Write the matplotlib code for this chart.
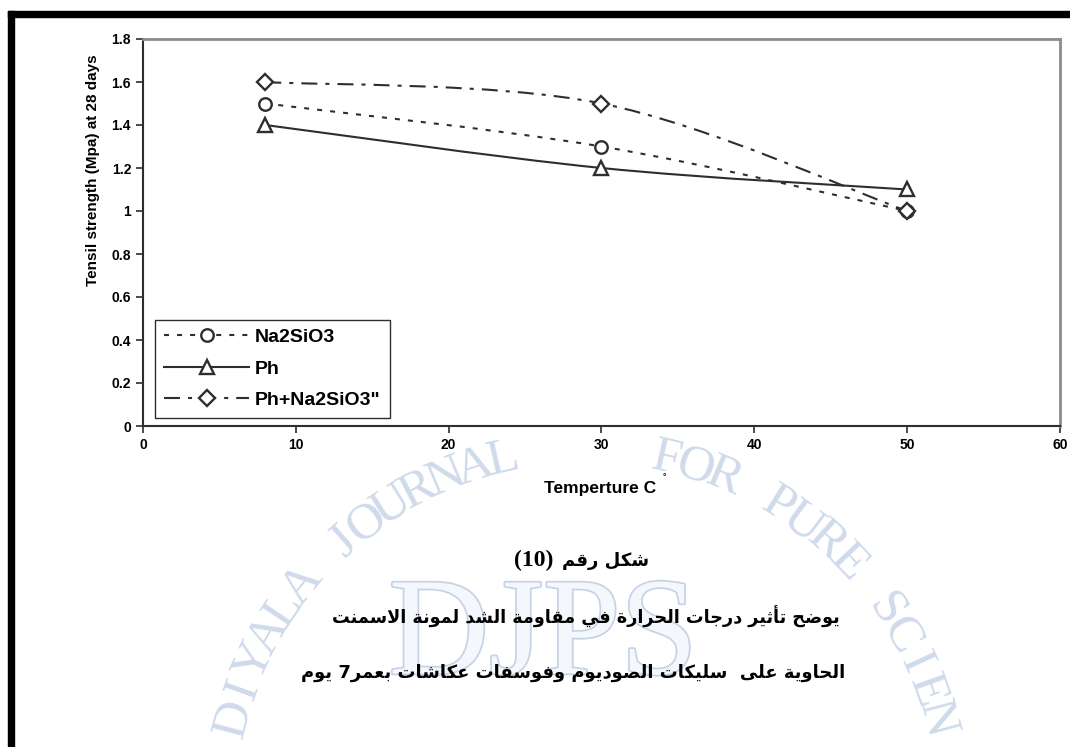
import re
import numpy as np
import matplotlib
matplotlib.use("Agg")
import matplotlib.pyplot as plt
import matplotlib.patheffects as pe
from matplotlib.path import Path
from matplotlib.patches import PathPatch, Rectangle
from matplotlib.lines import Line2D
from matplotlib.ticker import FuncFormatter, MultipleLocator
from matplotlib.transforms import IdentityTransform

# datos del ensayo
temps = [8, 30, 50]
na2sio3 = [1.5, 1.3, 1.0]
ph = [1.4, 1.2, 1.1]
ph_na2sio3 = [1.6, 1.5, 1.0]
labels = ["Na2SiO3", "Ph", "Ph+Na2SiO3\""]

x_label = "Temperture C"
y_label = "Tensil strength (Mpa) at 28 days"
fig_num = "(10)"
cap_title = "شكل رقم"
cap_line2 = "يوضح تأثير درجات الحرارة في مقاومة الشد لمونة الاسمنت"
cap_line3 = "الحاوية على  سليكات الصوديوم وفوسفات عكاشات بعمر7 يوم"
wm_text = "DIYALA JOURNAL FOR PURE SCIEN"

plt.rcParams["font.family"] = ["Liberation Sans", "DejaVu Sans"]
plt.rcParams["lines.scale_dashes"] = False

W, H = 1070, 747
INK = "#2e2e2e"
WM = "#cfdaeb"


def fx(x):
    return x / W


def fy(y):
    return 1 - y / H


# formas de presentacion arabes (aislada, final, inicial, media)
_letters = [("ء", 1), ("آ", 2), ("أ", 2), ("ؤ", 2), ("إ", 2), ("ئ", 4), ("ا", 2),
            ("ب", 4), ("ة", 2), ("ت", 4), ("ث", 4), ("ج", 4), ("ح", 4), ("خ", 4),
            ("د", 2), ("ذ", 2), ("ر", 2), ("ز", 2), ("س", 4), ("ش", 4), ("ص", 4),
            ("ض", 4), ("ط", 4), ("ظ", 4), ("ع", 4), ("غ", 4), ("ف", 4), ("ق", 4),
            ("ك", 4), ("ل", 4), ("م", 4), ("ن", 4), ("ه", 4), ("و", 2), ("ى", 2),
            ("ي", 4)]
FORMS = {}
code = 0xFE80
for ch, n in _letters:
    FORMS[ch] = [chr(code + i) for i in range(n)]
    code += n
LAM_ALEF = {"آ": (0xFEF5, 0xFEF6), "أ": (0xFEF7, 0xFEF8),
            "إ": (0xFEF9, 0xFEFA), "ا": (0xFEFB, 0xFEFC)}


def shape(text):
    units = []
    i = 0
    while i < len(text):
        c = text[i]
        if c == "ل" and i + 1 < len(text) and text[i + 1] in LAM_ALEF:
            units.append(("LA", text[i + 1]))
            i += 2
        else:
            units.append((c, None))
            i += 1

    def dual(u):
        return u[0] in FORMS and len(FORMS[u[0]]) == 4

    def joins(u):
        return u[0] == "LA" or (u[0] in FORMS and u[0] != "ء")

    out = []
    for k, u in enumerate(units):
        prev = units[k - 1] if k > 0 else None
        nxt = units[k + 1] if k + 1 < len(units) else None
        jp = prev is not None and dual(prev) and joins(u)
        jn = dual(u) and nxt is not None and joins(nxt)
        if u[0] == "LA":
            iso, fin = LAM_ALEF[u[1]]
            out.append(chr(fin if jp else iso))
        elif u[0] in FORMS:
            f = FORMS[u[0]]
            if jp and jn:
                out.append(f[3])
            elif jp:
                out.append(f[1])
            elif jn:
                out.append(f[2])
            else:
                out.append(f[0])
        else:
            out.append(u[0])
    vis = "".join(out)[::-1]
    return re.sub(r"[0-9]+", lambda m: m.group(0)[::-1], vis)


def smooth_path(xs, ys):
    # curva suavizada tipo Excel (Bezier cubica)
    pts = np.column_stack([xs, ys]).astype(float)
    n = len(pts)
    verts = [pts[0]]
    codes = [Path.MOVETO]
    for i in range(n - 1):
        p0 = pts[i - 1] if i > 0 else pts[i]
        p1, p2 = pts[i], pts[i + 1]
        p3 = pts[i + 2] if i + 2 < n else pts[i + 1]
        verts += [p1 + (p2 - p0) / 6, p2 - (p3 - p1) / 6, p2]
        codes += [Path.CURVE4] * 3
    return Path(verts, codes)


fig = plt.figure(figsize=(W / 100, H / 100), dpi=100)
fig.patch.set_facecolor("white")

# marca de agua
px = IdentityTransform()
cx, cy, r = 585, H - 813, 363
for k, ch in enumerate(wm_text):
    if k < 14:
        ang = 165 - k * 4.77
    else:
        ang = 77 - (k - 15) * 4.77
    a = np.radians(ang)
    fig.text((cx + r * np.cos(a)) / W, (cy + r * np.sin(a)) / H, ch,
             fontsize=37, family="Liberation Serif", color=WM,
             rotation=ang - 90, rotation_mode="anchor",
             ha="center", va="center", zorder=0)
fig.text(fx(543), fy(640), "DJPS", fontsize=100, family="Liberation Serif",
         color="#f4f7fb", ha="center", va="center", zorder=0,
         path_effects=[pe.withStroke(linewidth=2.5, foreground="#c6d2e6")])

# marco negro
fig.patches.append(Rectangle((8, H - 17), W - 8, 6, transform=px,
                             color="black", zorder=5))
fig.patches.append(Rectangle((8, 0), 6, H - 11, transform=px,
                             color="black", zorder=5))

ax = fig.add_axes([143 / W, (H - 426) / H, 917 / W, 387 / H])
ax.set_xlim(0, 60)
ax.set_ylim(0, 1.8)

series = [
    (na2sio3, (0, (3.6, 5.8)), "o", 9),
    (ph, "-", "^", 10),
    (ph_na2sio3, (0, (11.5, 5.8, 2.9, 5.8)), "D", 8),
]
handles = []
for (vals, ls, mk, ms), lab in zip(series, labels):
    ax.add_patch(PathPatch(smooth_path(temps, vals), fill=False,
                           edgecolor=INK, lw=1.5, linestyle=ls, zorder=2))
    ax.plot(temps, vals, linestyle="none", marker=mk, markersize=ms,
            markerfacecolor="white", markeredgecolor=INK,
            markeredgewidth=1.7, zorder=3)
    handles.append(Line2D([], [], color=INK, lw=1.5, linestyle=ls,
                          marker=mk, markersize=ms, markerfacecolor="white",
                          markeredgecolor=INK, markeredgewidth=1.7))

ax.xaxis.set_major_locator(MultipleLocator(10))
ax.yaxis.set_major_locator(MultipleLocator(0.2))
ax.yaxis.set_major_formatter(FuncFormatter(lambda v, p: "%g" % round(v, 1)))
ax.tick_params(direction="out", length=5, width=1.2, color=INK,
               labelsize=10, pad=3.6)
for lbl in ax.get_xticklabels() + ax.get_yticklabels():
    lbl.set_fontweight("bold")

for side in ["left", "bottom"]:
    ax.spines[side].set_color(INK)
    ax.spines[side].set_linewidth(1.5)
for side in ["top", "right"]:
    ax.spines[side].set_color("#8c8c8c")
    ax.spines[side].set_linewidth(2)

leg = ax.legend(handles, labels, loc="lower left",
                bbox_to_anchor=(fx(155), fy(418)), bbox_transform=fig.transFigure,
                borderaxespad=0, prop={"size": 14, "weight": "bold"},
                handlelength=4.4, handletextpad=0.3, labelspacing=0.72,
                borderpad=0.45, numpoints=1, fancybox=False, framealpha=1)
leg.get_frame().set_edgecolor(INK)
leg.get_frame().set_linewidth(1)

fig.text(fx(93), fy(170), y_label, rotation=90, ha="center", va="center",
         fontsize=11, fontweight="bold")
fig.text(fx(600), fy(489), x_label, ha="center", va="center",
         fontsize=12.5, fontweight="bold")
fig.text(fx(664), fy(478), "°", ha="center", va="center", fontsize=6,
         fontweight="bold")

# leyenda de la figura en arabe
fig.text(fx(553), fy(560), fig_num, ha="right", va="center", fontsize=17,
         fontweight="bold", family="Liberation Serif")
fig.text(fx(562), fy(561), shape(cap_title), ha="left", va="center",
         fontsize=13, fontweight="bold", family="DejaVu Sans")
fig.text(fx(586), fy(617), shape(cap_line2), ha="center", va="center",
         fontsize=12.7, fontweight="bold", family="DejaVu Sans")
fig.text(fx(573), fy(673), shape(cap_line3), ha="center", va="center",
         fontsize=12.9, fontweight="bold", family="DejaVu Sans")

fig.savefig("out.png", dpi=100)
